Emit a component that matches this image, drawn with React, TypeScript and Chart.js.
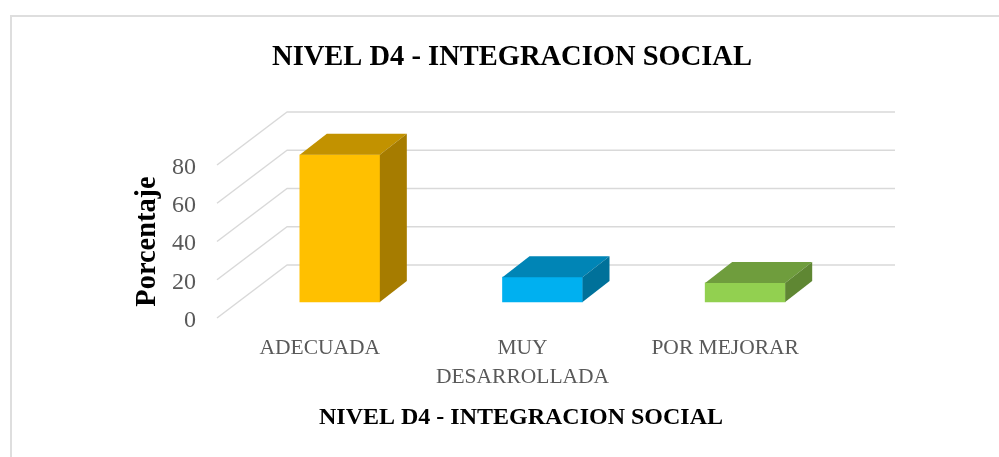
import React, { useEffect, useRef } from "react";
import { Chart, registerables } from "chart.js";

Chart.register(...registerables);

const TITLE = "NIVEL D4 - INTEGRACION SOCIAL";
const AXIS_X_TITLE = "NIVEL D4 - INTEGRACION SOCIAL";
const AXIS_Y_TITLE = "Porcentaje";
const categories = ["ADECUADA", ["MUY", "DESARROLLADA"], "POR MEJORAR"];
const values = [77, 13, 10];
const frontColors = ["#FFC000", "#00B0F0", "#92D050"];
const topColors = ["#C29200", "#0085B6", "#6F9D3D"];
const sideColors = ["#A67C00", "#00719A", "#5F8733"];
const yTicks = { min: 0, max: 80, step: 20 };

const FONT = "'Liberation Serif', serif";
const DEPTH_X = 70;
const DEPTH_Y = 53;
const BAR_OFFSET_X = 21.5;
const BAR_OFFSET_Y = 16;
const BAR_DEPTH_X = 27;
const BAR_DEPTH_Y = 21;

const frame3d = {
  id: "frame3d",
  beforeDraw(chart: any) {
    const { ctx, width, height } = chart;
    ctx.save();
    ctx.fillStyle = "#ffffff";
    ctx.fillRect(0, 0, width, height);
    ctx.fillStyle = "#dedede";
    ctx.fillRect(10, 15, 2, height - 15);
    ctx.fillRect(10, 15, width - 10, 2);
    ctx.restore();
  },
  beforeDatasetsDraw(chart: any) {
    const { ctx, chartArea, scales } = chart;
    ctx.save();
    ctx.strokeStyle = "#d9d9d9";
    ctx.lineWidth = 1.5;
    ctx.lineJoin = "round";
    for (const tick of scales.y.ticks) {
      const y = scales.y.getPixelForValue(tick.value);
      ctx.beginPath();
      ctx.moveTo(chartArea.left, y);
      ctx.lineTo(chartArea.left + DEPTH_X, y - DEPTH_Y);
      ctx.lineTo(chartArea.right + DEPTH_X, y - DEPTH_Y);
      ctx.stroke();
    }
    ctx.restore();
    ctx.save();
    ctx.translate(BAR_OFFSET_X, -BAR_OFFSET_Y);
  },
  afterDatasetsDraw(chart: any) {
    const { ctx } = chart;
    ctx.restore();
    const bars = chart.getDatasetMeta(0).data;
    bars.forEach((bar: any, i: number) => {
      const half = bar.width / 2;
      const l = bar.x - half + BAR_OFFSET_X;
      const r = bar.x + half + BAR_OFFSET_X;
      const t = bar.y - BAR_OFFSET_Y;
      const b = bar.base - BAR_OFFSET_Y;
      ctx.fillStyle = topColors[i];
      ctx.beginPath();
      ctx.moveTo(l, t);
      ctx.lineTo(l + BAR_DEPTH_X, t - BAR_DEPTH_Y);
      ctx.lineTo(r + BAR_DEPTH_X, t - BAR_DEPTH_Y);
      ctx.lineTo(r, t);
      ctx.closePath();
      ctx.fill();
      ctx.fillStyle = sideColors[i];
      ctx.beginPath();
      ctx.moveTo(r, t);
      ctx.lineTo(r + BAR_DEPTH_X, t - BAR_DEPTH_Y);
      ctx.lineTo(r + BAR_DEPTH_X, b - BAR_DEPTH_Y);
      ctx.lineTo(r, b);
      ctx.closePath();
      ctx.fill();
    });
  },
};

export default function App() {
  const ref = useRef<HTMLCanvasElement>(null);
  useEffect(() => {
    const chart = new Chart(ref.current as any, {
      type: "bar",
      data: {
        labels: categories as any,
        datasets: [
          {
            data: values,
            backgroundColor: frontColors,
            barThickness: 80,
            clip: false as any,
          },
        ],
      },
      plugins: [frame3d],
      options: {
        responsive: false,
        animation: false,
        layout: { padding: { left: 25, right: 0, top: 0, bottom: 0 } },
        plugins: {
          legend: { display: false },
          tooltip: { enabled: false },
          title: {
            display: true,
            text: TITLE,
            color: "#000000",
            font: { family: FONT, size: 28.5, weight: "bold" },
            padding: { top: 41, bottom: 89.8 },
          },
        },
        scales: {
          x: {
            grid: { display: false },
            border: { display: false },
            afterFit: (s: any) => {
              s.height = 139;
            },
            ticks: {
              color: "#595959",
              font: { family: FONT, size: 21.5, lineHeight: 1.35 },
              maxRotation: 0,
              autoSkip: false,
              padding: 8,
              labelOffset: 1.5,
            },
            title: {
              display: true,
              text: AXIS_X_TITLE,
              color: "#000000",
              font: { family: FONT, size: 24, weight: "bold" },
              padding: { top: 0, bottom: 25 },
            },
          },
          y: {
            position: "left",
            min: yTicks.min,
            max: yTicks.max,
            grid: { display: false },
            border: { display: false },
            afterFit: (s: any) => {
              s.width = 192;
            },
            ticks: {
              stepSize: yTicks.step,
              color: "#595959",
              font: { family: FONT, size: 24 },
              padding: 13,
              labelOffset: 2.5,
            },
            title: {
              display: true,
              text: AXIS_Y_TITLE,
              color: "#000000",
              font: { family: FONT, size: 28.4, weight: "bold" },
              padding: { top: 106, bottom: 0 },
            },
          },
          yRight: {
            position: "right",
            grid: { display: false },
            border: { display: false },
            ticks: { display: false },
            afterFit: (s: any) => {
              s.width = 174;
            },
          },
        },
      } as any,
    });
    return () => chart.destroy();
  }, []);
  return (
    <div style={{ position: "absolute", left: 0, top: 0, width: 999, height: 457 }}>
      <canvas ref={ref} width={999} height={457} style={{ display: "block" }} />
    </div>
  );
}
